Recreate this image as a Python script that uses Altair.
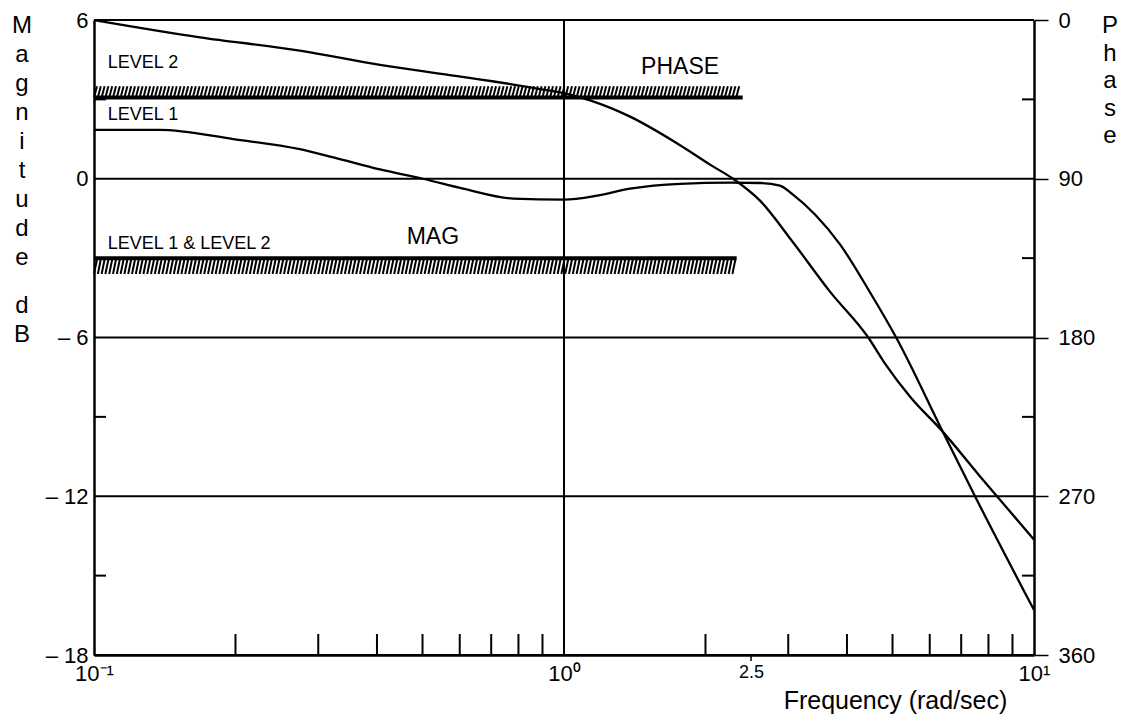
import altair as alt
import pandas as pd

# ---- data ----
mag_freq = [0.1, 0.138, 0.198, 0.274, 0.323, 0.406, 0.501, 0.61, 0.779, 1.0, 1.176,
            1.382, 1.766, 2.255, 2.612, 2.88, 3.07, 3.42, 3.866, 4.48, 5.09, 6.40, 7.49, 10.0]
mag_db = [1.85, 1.85, 1.5, 1.12, 0.81, 0.35, 0.0, -0.375, -0.75, -0.79, -0.64,
          -0.375, -0.19, -0.15, -0.16, -0.26, -0.6, -1.35, -2.48, -4.3, -6.0, -9.57, -12.0, -16.3]

phase_freq = [0.1, 0.168, 0.274, 0.406, 0.572, 0.768, 0.889, 1.0, 1.136, 1.382, 1.766,
              2.045, 2.289, 2.612, 3.07, 3.68, 4.44, 4.82, 5.45, 6.40, 7.67, 10.0]
phase_deg = [0, 9.8, 17.3, 25.4, 31.2, 36.3, 39.2, 41.5, 45.6, 54.8, 71,
             82, 90, 102.4, 126, 154, 180, 194.8, 213.6, 233.5, 258.6, 294.6]

mag_ticks = [6, 0, -6, -12, -18]
mag_minor = [3, -3, -9, -15]
phase_ticks = [0, 90, 180, 270, 360]
phase_minor = [45, 135, 225, 315]
freq_major = [0.1, 1, 2.5, 10]
freq_minor = [0.2, 0.3, 0.4, 0.5, 0.6, 0.7, 0.8, 0.9, 2, 3, 4, 5, 6, 7, 8, 9]

phase_limit = 44          # deg, PHASE boundary
phase_limit_end = 2.4     # rad/sec
mag_limit = -3.0          # dB, MAG boundary
mag_limit_end = 2.33      # rad/sec

level_text = ["LEVEL 2", "LEVEL 1", "LEVEL 1 & LEVEL 2"]
level_freq = [0.107, 0.107, 0.107]
level_db = [4.38, 2.42, -2.45]

W, H = 940, 635
FONT = "Liberation Sans"
BLACK = "#000000"

XS = alt.Scale(type="log", domain=[0.1, 10], nice=False)
YM = alt.Scale(domain=[-18, 6], nice=False, zero=False)
YP = alt.Scale(domain=[0, 360], reverse=True, nice=False, zero=False)

X_AXIS = alt.Axis(
    orient="bottom", values=freq_major, title="Frequency (rad/sec)", grid=False, ticks=False,
    domain=True, domainColor=BLACK, domainWidth=2.5,
    labelExpr="datum.value < 0.5 ? '10\u207b\u00b9' : datum.value < 2 ? '10\u2070' : datum.value < 5 ? '2.5' : '10\u00b9'",
    labelFont=FONT,
    labelFontSize={"condition": {"test": "datum.value > 2 && datum.value < 5", "value": 18}, "value": 22},
    labelColor=BLACK, labelPadding=8, labelOverlap=False, labelFlush=False,
    titleFont=FONT, titleFontSize=25, titleFontWeight="normal", titleColor=BLACK,
    titleX=801, titleY=53, titleAlign="center", titleBaseline="alphabetic")

M_AXIS = alt.Axis(
    orient="left", values=mag_ticks, title=None, grid=False, ticks=False,
    domain=True, domainColor=BLACK, domainWidth=2.5,
    labelExpr="datum.value < 0 ? '\u2013 ' + (-datum.value) : '' + datum.value",
    labelFont=FONT, labelFontSize=22, labelColor=BLACK, labelPadding=6,
    labelOverlap=False, labelFlush=False)

P_AXIS = alt.Axis(
    orient="right", values=phase_ticks, title=None, grid=False,
    ticks=True, tickSize=14, tickColor=BLACK, tickWidth=1.5,
    domain=True, domainColor=BLACK, domainWidth=2.5,
    labelFont=FONT, labelFontSize=22, labelColor=BLACK, labelPadding=10,
    labelOverlap=False, labelFlush=False)


def fx(name="f"):
    return alt.X(f"{name}:Q", scale=XS, axis=X_AXIS)


def fm(name="db"):
    return alt.Y(f"{name}:Q", scale=YM, axis=M_AXIS)


def fp(name="p"):
    return alt.Y(f"{name}:Q", scale=YP, axis=P_AXIS)


# ---- hatch patterns (decorative) ----
step = 10 ** (3.8 / 470)
slant = 10 ** (3 / 470)
ph_h, f = [], 0.1
while f * slant <= phase_limit_end:
    ph_h.append(f)
    f *= step
mg_h, f = [], 0.1
while f * slant <= mag_limit_end:
    mg_h.append(f)
    f *= step

ph_hatch = pd.DataFrame({"f": ph_h, "f2": [v * slant for v in ph_h],
                         "p": [phase_limit] * len(ph_h), "p2": [phase_limit - 6.5] * len(ph_h)})
mg_hatch = pd.DataFrame({"f": mg_h, "f2": [v * slant for v in mg_h],
                         "db": [mag_limit - 0.6] * len(mg_h), "db2": [mag_limit - 0.05] * len(mg_h)})

# ---- magnitude layer (left scale) ----
grid = alt.Chart(pd.DataFrame({"db": mag_ticks})).mark_rule(color=BLACK, strokeWidth=2).encode(
    y=fm(), x=alt.value(0), x2=alt.value(W))

vline = alt.Chart(pd.DataFrame({"f": [1.0]})).mark_rule(color=BLACK, strokeWidth=2).encode(
    x=fx(), y=alt.value(0), y2=alt.value(H))

fminor = alt.Chart(pd.DataFrame({"f": freq_minor})).mark_rule(color=BLACK, strokeWidth=2).encode(
    x=fx(), y=alt.value(H), y2=alt.value(H - 21))

f25 = alt.Chart(pd.DataFrame({"f": [2.5]})).mark_rule(color=BLACK, strokeWidth=1.5).encode(
    x=fx(), y=alt.value(H), y2=alt.value(H + 6))

mminor = alt.Chart(pd.DataFrame({"db": mag_minor})).mark_rule(color=BLACK, strokeWidth=2).encode(
    y=fm(), x=alt.value(0), x2=alt.value(12))

mag_line = alt.Chart(pd.DataFrame({"f": mag_freq, "db": mag_db})).mark_line(
    color=BLACK, strokeWidth=2.3, interpolate="monotone").encode(x=fx(), y=fm())

mag_base = alt.Chart(pd.DataFrame({"f": [0.1], "f2": [mag_limit_end], "db": [mag_limit]})).mark_rule(
    color=BLACK, strokeWidth=4).encode(x=fx(), x2="f2:Q", y=fm())

mag_hatch = alt.Chart(mg_hatch).mark_rule(color=BLACK, strokeWidth=2).encode(
    x=fx(), x2="f2:Q", y=fm(), y2="db2:Q")

lvl = alt.Chart(pd.DataFrame({"t": level_text, "f": level_freq, "db": level_db})).mark_text(
    align="left", baseline="middle", font=FONT, fontSize=18, color=BLACK).encode(
    x=fx(), y=fm(), text="t:N")

mag_lbl = alt.Chart(pd.DataFrame({"t": ["MAG"], "f": [0.526], "db": [-2.21]})).mark_text(
    align="center", baseline="middle", font=FONT, fontSize=23, color=BLACK).encode(
    x=fx(), y=fm(), text="t:N")

title_l1 = alt.Chart(pd.DataFrame({"t": ["M\na\ng\nn\ni\nt\nu\nd\ne"]})).mark_text(
    align="center", baseline="alphabetic", font=FONT, fontSize=24, color=BLACK,
    lineBreak="\n", lineHeight=29).encode(x=alt.value(-72), y=alt.value(13), text="t:N")
title_l2 = alt.Chart(pd.DataFrame({"t": ["d\nB"]})).mark_text(
    align="center", baseline="alphabetic", font=FONT, fontSize=24, color=BLACK,
    lineBreak="\n", lineHeight=29).encode(x=alt.value(-72), y=alt.value(293), text="t:N")

mag_layer = alt.layer(grid, vline, fminor, f25, mminor, mag_base, mag_hatch, mag_line,
                      lvl, mag_lbl, title_l1, title_l2)

# ---- phase layer (right scale) ----
ph_minor = alt.Chart(pd.DataFrame({"p": phase_minor})).mark_rule(color=BLACK, strokeWidth=2).encode(
    y=fp(), x=alt.value(W), x2=alt.value(W - 12))

ph_line = alt.Chart(pd.DataFrame({"f": phase_freq, "p": phase_deg})).mark_line(
    color=BLACK, strokeWidth=2.3, interpolate="monotone").encode(x=fx(), y=fp())

ph_base = alt.Chart(pd.DataFrame({"f": [0.1], "f2": [phase_limit_end], "p": [phase_limit]})).mark_rule(
    color=BLACK, strokeWidth=4).encode(x=fx(), x2="f2:Q", y=fp())

ph_hatch_m = alt.Chart(ph_hatch).mark_rule(color=BLACK, strokeWidth=2).encode(
    x=fx(), x2="f2:Q", y=fp(), y2="p2:Q")

ph_lbl = alt.Chart(pd.DataFrame({"t": ["PHASE"], "f": [1.766], "p": [26.5]})).mark_text(
    align="center", baseline="middle", font=FONT, fontSize=23, color=BLACK).encode(
    x=fx(), y=fp(), text="t:N")

title_r = alt.Chart(pd.DataFrame({"t": ["P\nh\na\ns\ne"]})).mark_text(
    align="center", baseline="alphabetic", font=FONT, fontSize=24, color=BLACK,
    lineBreak="\n", lineHeight=27.5).encode(x=alt.value(1016), y=alt.value(13), text="t:N")

phase_layer = alt.layer(ph_minor, ph_base, ph_hatch_m, ph_line, ph_lbl, title_r)

chart = alt.layer(mag_layer, phase_layer).resolve_scale(y="independent").properties(
    width=W, height=H,
    autosize=alt.AutoSizeParams(type="none"),
    padding={"left": 86, "top": 12, "right": 90, "bottom": 65},
    background="white",
).configure_view(stroke=None)

chart.save("out.html", embed_options={"renderer": "svg", "actions": False})
